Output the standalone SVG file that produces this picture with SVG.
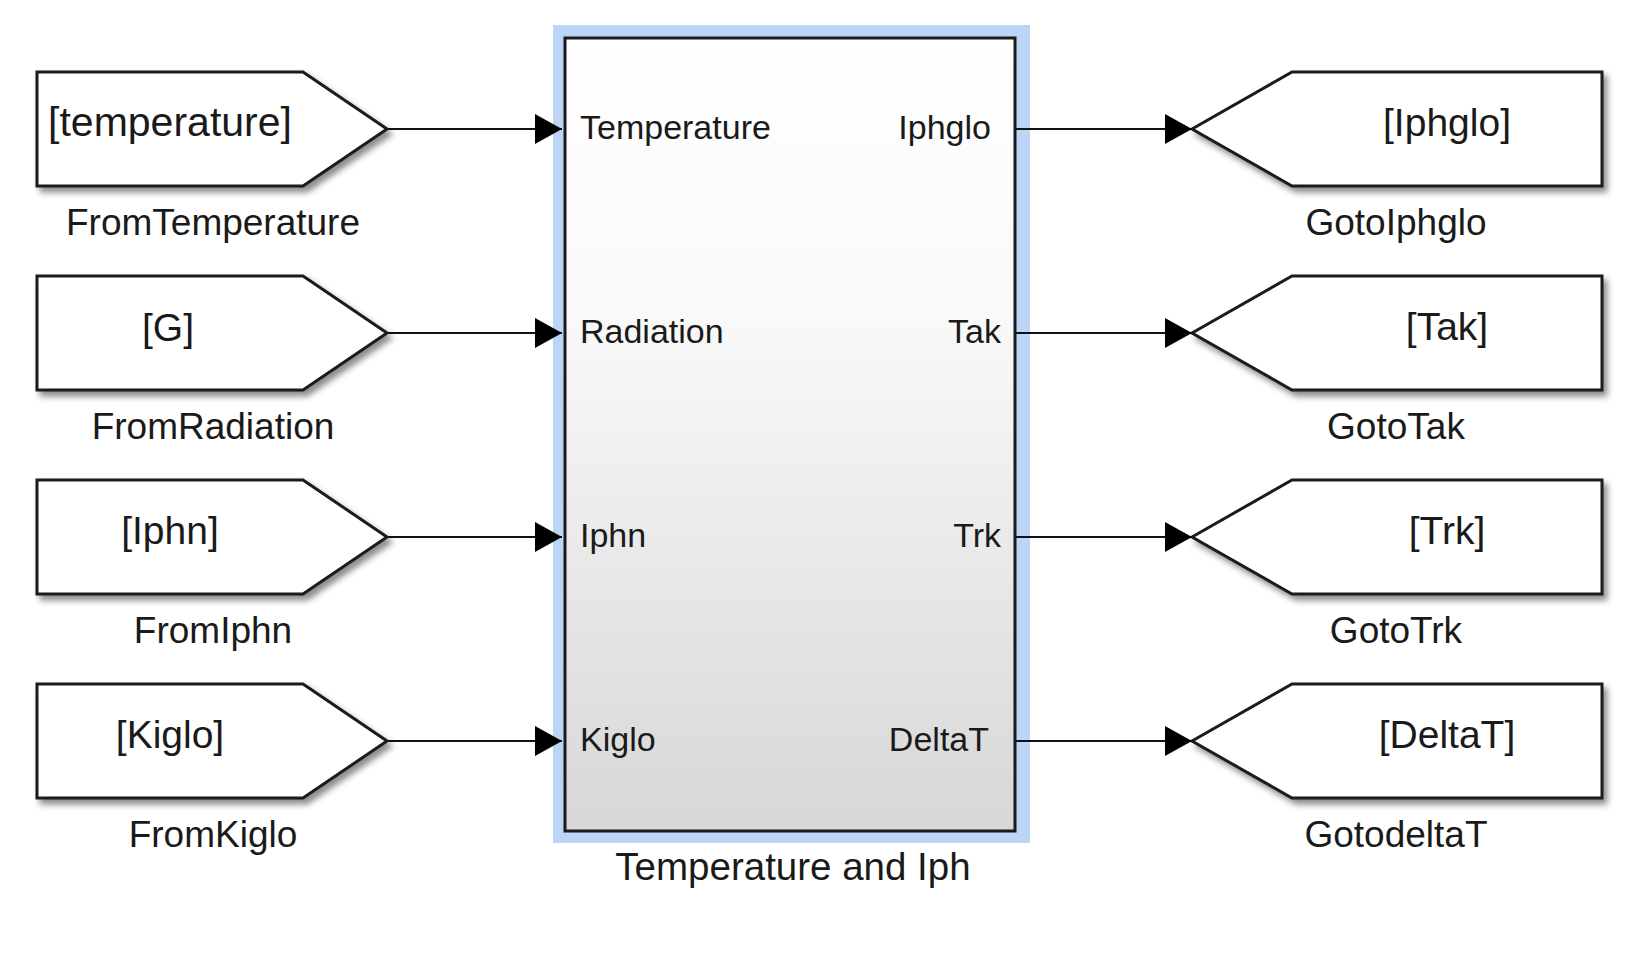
<svg xmlns="http://www.w3.org/2000/svg" width="1639" height="980" viewBox="0 0 1639 980">
<defs>
<style>
.blk{fill:#fff;stroke:#1a1a1a;stroke-width:3;stroke-linejoin:miter}
.t{font-family:"Liberation Sans",Arial,sans-serif;fill:#1a1a1a}
.in{font-size:39px;text-anchor:middle}
.lbl{font-size:37px;text-anchor:middle}
.port{font-size:34px}
.wire{stroke:#111;stroke-width:2.2;fill:none}
</style>
<filter id="sh" x="-10%" y="-20%" width="130%" height="150%">
<feDropShadow dx="4" dy="5" stdDeviation="3" flood-color="#000" flood-opacity="0.45"/>
</filter>
<linearGradient id="g" x1="0" y1="0" x2="0" y2="1">
<stop offset="0" stop-color="#ffffff"/>
<stop offset="0.35" stop-color="#f9f9f9"/>
<stop offset="1" stop-color="#d7d7d7"/>
</linearGradient>
<marker id="arr" markerUnits="userSpaceOnUse" markerWidth="28" markerHeight="30" refX="27" refY="15" orient="auto">
<path d="M0,0 L27,15 L0,30 Z" fill="#000"/>
</marker>
</defs>
<rect width="1639" height="980" fill="#fff"/>

<g id="main">
<rect x="553" y="25" width="477" height="818" fill="#bcd5f6"/>
<rect x="565" y="38" width="450" height="793" fill="url(#g)" stroke="#1a1a1a" stroke-width="3"/>
<text class="t port" x="580" y="139">Temperature</text>
<text class="t port" x="580" y="343">Radiation</text>
<text class="t port" x="580" y="547">Iphn</text>
<text class="t port" x="580" y="751">Kiglo</text>
<text class="t port" x="991" y="139" text-anchor="end">Iphglo</text>
<text class="t port" x="1001" y="343" text-anchor="end">Tak</text>
<text class="t port" x="1001" y="547" text-anchor="end">Trk</text>
<text class="t port" x="989" y="751" text-anchor="end">DeltaT</text>
<text class="t lbl" x="793" y="880" style="font-size:38.5px">Temperature and Iph</text>
</g>

<g id="fromTemperature">
<polygon class="blk" filter="url(#sh)" points="37,72 303,72 387,129 303,186 37,186"/>
<text class="t in" x="170" y="136" style="font-size:41px">[temperature]</text>
<text class="t lbl" x="213" y="235">FromTemperature</text>
</g>
<g id="fromRadiation">
<polygon class="blk" filter="url(#sh)" points="37,276 303,276 387,333 303,390 37,390"/>
<text class="t in" x="168" y="341">[G]</text>
<text class="t lbl" x="213" y="439">FromRadiation</text>
</g>
<g id="fromIphn">
<polygon class="blk" filter="url(#sh)" points="37,480 303,480 387,537 303,594 37,594"/>
<text class="t in" x="170" y="544">[Iphn]</text>
<text class="t lbl" x="213" y="643">FromIphn</text>
</g>
<g id="fromKiglo">
<polygon class="blk" filter="url(#sh)" points="37,684 303,684 387,741 303,798 37,798"/>
<text class="t in" x="170" y="748">[Kiglo]</text>
<text class="t lbl" x="213" y="847">FromKiglo</text>
</g>

<g id="gotoIphglo">
<polygon class="blk" filter="url(#sh)" points="1192,129 1292,72 1602,72 1602,186 1292,186"/>
<text class="t in" x="1447" y="136">[Iphglo]</text>
<text class="t lbl" x="1396" y="235">GotoIphglo</text>
</g>
<g id="gotoTak">
<polygon class="blk" filter="url(#sh)" points="1192,333 1292,276 1602,276 1602,390 1292,390"/>
<text class="t in" x="1447" y="340">[Tak]</text>
<text class="t lbl" x="1396" y="439">GotoTak</text>
</g>
<g id="gotoTrk">
<polygon class="blk" filter="url(#sh)" points="1192,537 1292,480 1602,480 1602,594 1292,594"/>
<text class="t in" x="1447" y="544">[Trk]</text>
<text class="t lbl" x="1396" y="643">GotoTrk</text>
</g>
<g id="gotodeltaT">
<polygon class="blk" filter="url(#sh)" points="1192,741 1292,684 1602,684 1602,798 1292,798"/>
<text class="t in" x="1447" y="748">[DeltaT]</text>
<text class="t lbl" x="1396" y="847">GotodeltaT</text>
</g>

<g id="connectors">
<line class="wire" x1="388" y1="129" x2="562" y2="129" marker-end="url(#arr)"/>
<line class="wire" x1="388" y1="333" x2="562" y2="333" marker-end="url(#arr)"/>
<line class="wire" x1="388" y1="537" x2="562" y2="537" marker-end="url(#arr)"/>
<line class="wire" x1="388" y1="741" x2="562" y2="741" marker-end="url(#arr)"/>
<line class="wire" x1="1016" y1="129" x2="1192" y2="129" marker-end="url(#arr)"/>
<line class="wire" x1="1016" y1="333" x2="1192" y2="333" marker-end="url(#arr)"/>
<line class="wire" x1="1016" y1="537" x2="1192" y2="537" marker-end="url(#arr)"/>
<line class="wire" x1="1016" y1="741" x2="1192" y2="741" marker-end="url(#arr)"/>
</g>
</svg>
